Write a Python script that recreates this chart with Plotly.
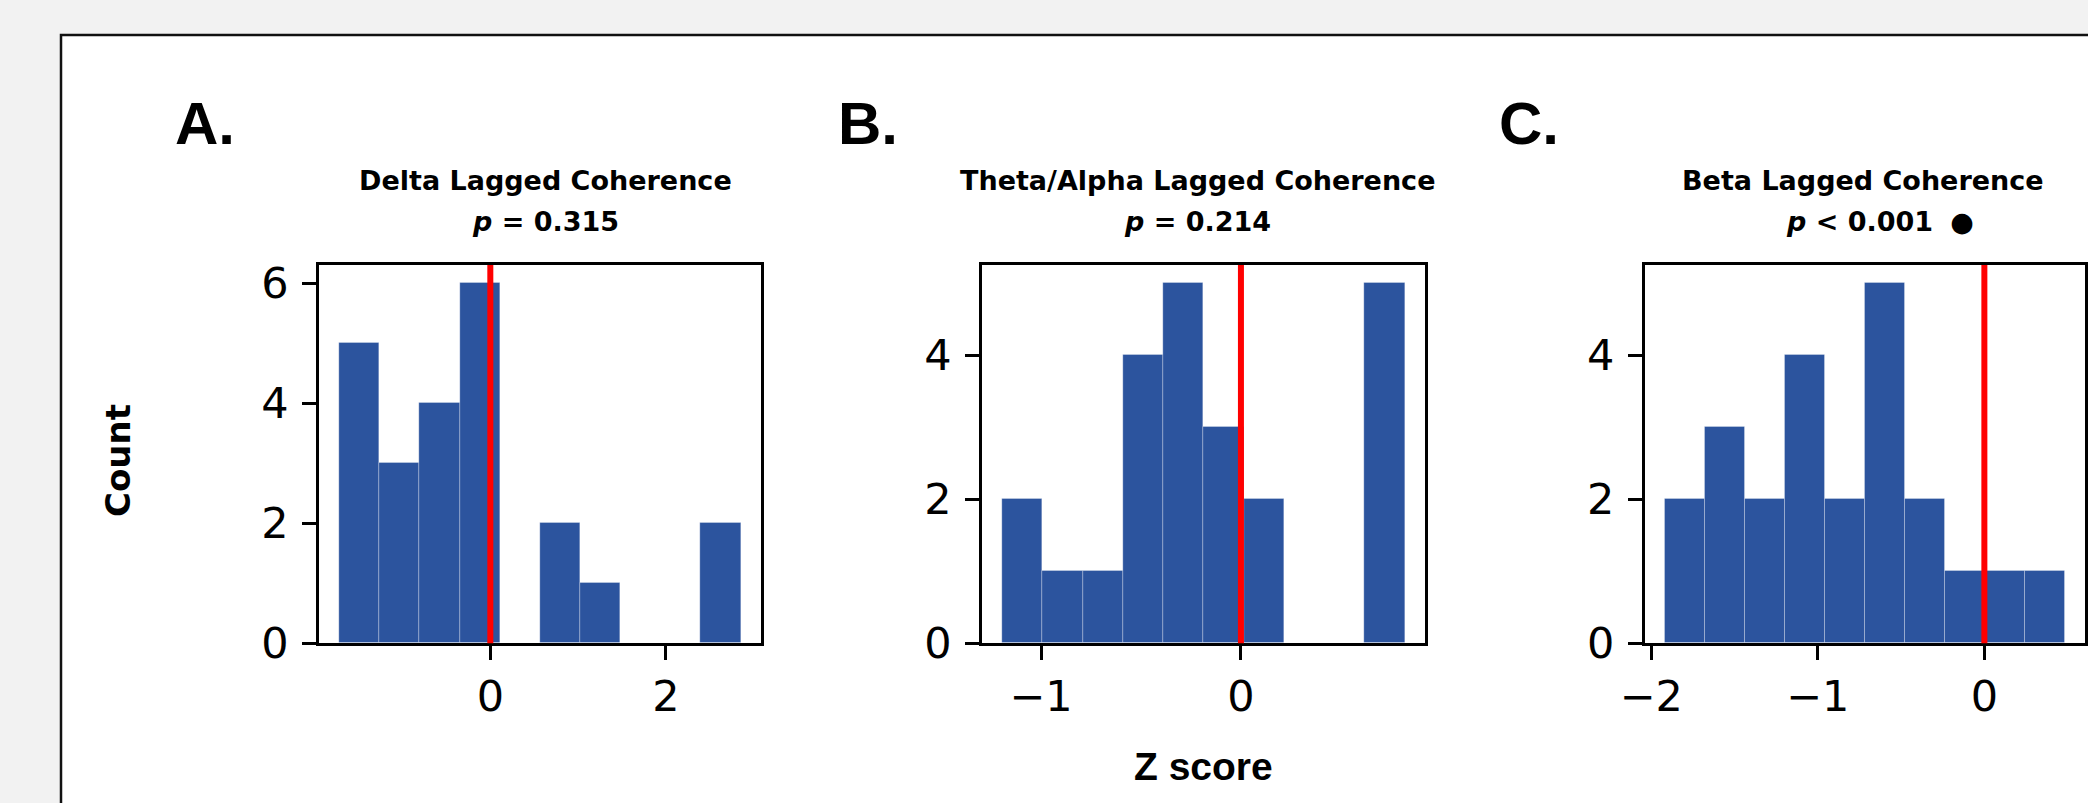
import numpy as np
import plotly.graph_objects as go

W, H = 2088, 803

# ---- data ----
panel_letters = ["A.", "B.", "C."]
titles = ["Delta Lagged Coherence", "Theta/Alpha Lagged Coherence", "Beta Lagged Coherence"]
p_texts = ["<b><i>p</i> = 0.315</b>", "<b><i>p</i> = 0.214</b>", "<b><i>p</i> &lt; 0.001</b>  ●"]

delta_range = [-1.719, 2.854]
delta_counts = [5, 3, 4, 6, 0, 2, 1, 0, 0, 2]

theta_range = [-1.193, 0.820]
theta_counts = [2, 1, 1, 4, 5, 3, 2, 0, 0, 5]

beta_range = [-1.917, 0.484]
beta_counts = [2, 3, 2, 4, 2, 5, 2, 1, 1, 1]

ref_line = 0.0
x_label = "Z score"
y_label = "Count"

# ---- layout (pixels) ----
x_domains_px = [(319.3, 761.0), (982.3, 1425.0), (1645.0, 2085.0)]
y_domain_px = (265.0, 643.3)
letter_x_px = [173, 836, 1497]
title_cx_px = [545, 1197, 1863]
p_cx_px = [545, 1197, 1880]
x_dticks = [2, 1, 1]

BAR = "#2c549e"


def px(x):
    return x / W


def py(y):
    return 1 - y / H


fig = go.Figure()
panels = [(delta_range, delta_counts), (theta_range, theta_counts), (beta_range, beta_counts)]

layout = {}
shapes = [
    dict(type="rect", xref="paper", yref="paper", x0=px(61), x1=1.05, y0=-0.05, y1=py(35),
         fillcolor="white", line=dict(color="#111111", width=2.5), layer="below")
]
annotations = []

for i, (rng, counts) in enumerate(panels):
    n = len(counts)
    edges = np.linspace(rng[0], rng[1], n + 1)
    centers = (edges[:-1] + edges[1:]) / 2
    width = edges[1] - edges[0]
    span = rng[1] - rng[0]
    xa = "x" if i == 0 else f"x{i+1}"
    ya = "y" if i == 0 else f"y{i+1}"
    fig.add_trace(go.Bar(
        x=centers, y=counts, width=width, xaxis=xa, yaxis=ya,
        marker=dict(color=BAR, line=dict(color="rgba(255,255,255,0.28)", width=1)),
        showlegend=False, hoverinfo="skip"))
    ymax = max(counts) * 1.05
    key = "" if i == 0 else str(i + 1)
    axis_common = dict(showline=True, linewidth=3, linecolor="black", mirror=True,
                       ticks="outside", ticklen=14, tickwidth=3, tickcolor="black",
                       showgrid=False, zeroline=False, automargin=False,
                       tickfont=dict(family="DejaVu Sans", size=43, color="black"))
    layout["xaxis" + key] = dict(domain=[px(x_domains_px[i][0]), px(x_domains_px[i][1])],
                                 range=[rng[0] - 0.05 * span, rng[1] + 0.05 * span],
                                 anchor=ya, dtick=x_dticks[i], tick0=0,
                                 ticklabelstandoff=-1, **axis_common)
    layout["yaxis" + key] = dict(domain=[py(y_domain_px[1]), py(y_domain_px[0])],
                                 range=[0, ymax], anchor=xa, dtick=2, tick0=0,
                                 ticklabelstandoff=5, **axis_common)
    shapes.append(dict(type="line", xref=xa, yref=f"{ya} domain", x0=ref_line, x1=ref_line,
                       y0=0, y1=1, line=dict(color="#ff0000", width=6), layer="above"))
    annotations.append(dict(text=f"<b>{panel_letters[i]}</b>", x=px(letter_x_px[i]), y=py(124),
                            xref="paper", yref="paper", xanchor="left", yanchor="middle",
                            showarrow=False,
                            font=dict(family="Liberation Sans", size=60, color="black")))
    annotations.append(dict(text=f"<b>{titles[i]}</b>", x=px(title_cx_px[i]), y=py(180),
                            xref="paper", yref="paper", xanchor="center", yanchor="middle",
                            showarrow=False,
                            font=dict(family="DejaVu Sans", size=27, color="black")))
    annotations.append(dict(text=p_texts[i], x=px(p_cx_px[i]), y=py(221),
                            xref="paper", yref="paper", xanchor="center", yanchor="middle",
                            showarrow=False,
                            font=dict(family="DejaVu Sans", size=27, color="black")))

annotations.append(dict(text=f"<b>{y_label}</b>", x=px(118), y=py(461), xref="paper", yref="paper",
                        xanchor="center", yanchor="middle", textangle=-90, showarrow=False,
                        font=dict(family="DejaVu Sans", size=34, color="black")))
annotations.append(dict(text=f"<b>{x_label}</b>", x=px(1203), y=py(766), xref="paper", yref="paper",
                        xanchor="center", yanchor="middle", showarrow=False,
                        font=dict(family="Liberation Sans", size=39, color="black")))

fig.update_layout(width=W, height=H, template="none",
                  margin=dict(l=0, r=0, t=0, b=0, pad=0, autoexpand=False),
                  paper_bgcolor="#f2f2f2", plot_bgcolor="white",
                  bargap=0, shapes=shapes, annotations=annotations, **layout)

fig.write_html("out.html", config={"displayModeBar": False},
               post_script="document.body.style.margin='0px';document.body.style.overflow='hidden';")
